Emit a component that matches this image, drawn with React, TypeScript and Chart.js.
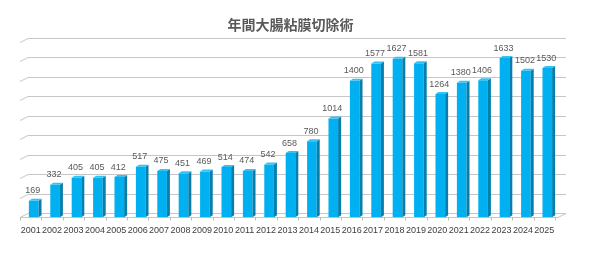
import { useEffect, useRef } from "react";
import { Chart, registerables } from "chart.js";

Chart.register(...registerables);

const years = ["2001","2002","2003","2004","2005","2006","2007","2008","2009","2010","2011","2012","2013","2014","2015","2016","2017","2018","2019","2020","2021","2022","2023","2024","2025"];
const cases = [169,332,405,405,412,517,475,451,469,514,474,542,658,780,1014,1400,1577,1627,1581,1264,1380,1406,1633,1502,1530];
const gridValues = [0,200,400,600,800,1000,1200,1400,1600,1800];
const chartTitle = "年間大腸粘膜切除術";

const WALL_DX = 8;
const WALL_DY = 4;
const BAR_DX = 3;
const BAR_DY = 2;
const LABEL_SHIFT = -3;

const wallPlugin = {
  id: "wall3d",
  beforeDatasetsDraw(chart: any) {
    const { ctx, chartArea, scales } = chart;
    const ys = scales.y;
    const xs = scales.x;
    const L = chartArea.left - 3;
    const R = chartArea.right;
    ctx.save();
    ctx.lineWidth = 1;
    ctx.strokeStyle = "#C6C6C6";
    for (const v of gridValues) {
      const py = Math.round(ys.getPixelForValue(v)) + 0.5;
      ctx.beginPath();
      ctx.moveTo(L, py);
      ctx.lineTo(L + WALL_DX, py - WALL_DY);
      ctx.lineTo(R + WALL_DX, py - WALL_DY);
      if (v === 0) {
        ctx.lineTo(R, py);
        ctx.lineTo(L, py);
      }
      ctx.stroke();
    }
    const p0 = Math.round(ys.getPixelForValue(0)) + 0.5;
    const step = xs.width / years.length;
    ctx.strokeStyle = "#BDBDBD";
    for (let i = 0; i <= years.length; i++) {
      const px = Math.round(chartArea.left + LABEL_SHIFT + i * step) + 0.5;
      ctx.beginPath();
      ctx.moveTo(px, p0);
      ctx.lineTo(px, p0 + 3);
      ctx.stroke();
    }
    ctx.restore();
  },
  afterDatasetsDraw(chart: any) {
    const { ctx } = chart;
    const meta = chart.getDatasetMeta(0);
    ctx.save();
    meta.data.forEach((bar: any, i: number) => {
      const w = bar.width;
      const x0 = bar.x - w / 2;
      const x1 = bar.x + w / 2;
      const top = bar.y;
      const base = bar.base;
      ctx.fillStyle = "#067FAD";
      ctx.beginPath();
      ctx.moveTo(x1, top);
      ctx.lineTo(x1 + BAR_DX, top - BAR_DY);
      ctx.lineTo(x1 + BAR_DX, base - BAR_DY);
      ctx.lineTo(x1, base);
      ctx.closePath();
      ctx.fill();
      ctx.fillStyle = "#35C2F2";
      ctx.beginPath();
      ctx.moveTo(x0, top);
      ctx.lineTo(x0 + BAR_DX, top - BAR_DY);
      ctx.lineTo(x1 + BAR_DX, top - BAR_DY);
      ctx.lineTo(x1, top);
      ctx.closePath();
      ctx.fill();
      ctx.fillStyle = "#595959";
      ctx.font = "9px 'Liberation Sans', Arial, sans-serif";
      ctx.textAlign = "center";
      ctx.textBaseline = "middle";
      ctx.fillText(String(cases[i]), bar.x - 1, top - 10);
    });
    ctx.restore();
  },
};

export default function App() {
  const ref = useRef<HTMLCanvasElement>(null);
  useEffect(() => {
    document.body.style.margin = "0";
    const canvas = ref.current!;
    const chart = new Chart(canvas, {
      type: "bar",
      data: {
        labels: years,
        datasets: [
          {
            data: cases,
            backgroundColor: "#00B0F0",
            borderWidth: 0,
            categoryPercentage: 1,
            barPercentage: 0.45,
          },
        ],
      },
      options: {
        responsive: false,
        animation: false,
        layout: { padding: { left: 23, right: 32, top: 0, bottom: 15 } },
        plugins: {
          legend: { display: false },
          tooltip: { enabled: false },
          title: {
            display: true,
            text: chartTitle,
            color: "#595959",
            font: { size: 14, weight: "bold", family: "'Noto Sans CJK JP', sans-serif" },
            padding: { top: 16, bottom: 9 },
          },
        },
        scales: {
          x: {
            grid: { display: false, drawTicks: false },
            border: { display: false },
            ticks: {
              color: "#404040",
              font: { size: 9, family: "'Liberation Sans', Arial, sans-serif" },
              maxRotation: 0,
              minRotation: 0,
              autoSkip: false,
              padding: 8,
              labelOffset: LABEL_SHIFT,
            },
          },
          y: {
            display: false,
            min: 0,
            max: 1800,
            ticks: { stepSize: 200 },
          },
        },
      },
      plugins: [wallPlugin],
    });
    return () => chart.destroy();
  }, []);
  return (
    <div style={{ width: 590, height: 259 }}>
      <canvas ref={ref} width={590} height={259} style={{ display: "block" }} />
    </div>
  );
}
